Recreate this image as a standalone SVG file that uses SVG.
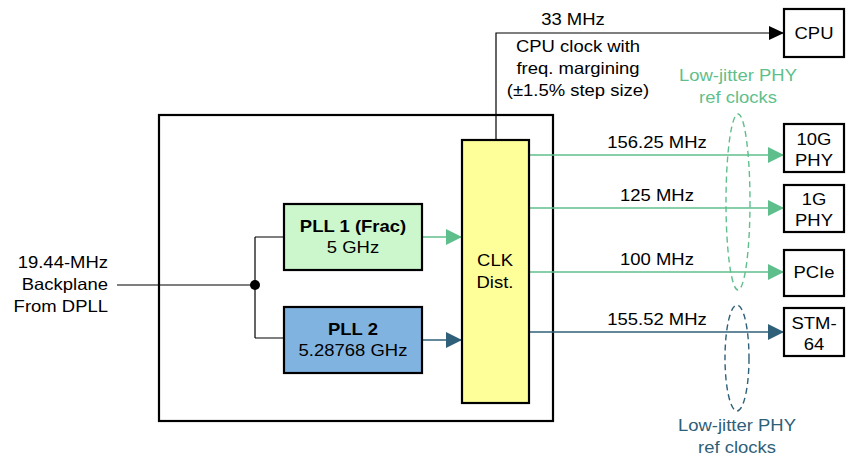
<svg xmlns="http://www.w3.org/2000/svg" width="846" height="457" viewBox="0 0 846 457">
<defs>
<style>
text{font-family:"Liberation Sans",Arial,sans-serif;font-size:16.5px;fill:#000}
.c{text-anchor:middle}
.r{text-anchor:end}
.b{font-weight:bold}
.box{stroke:#000;stroke-width:2.2}
.k{stroke:#000;stroke-width:1.2;fill:none}
.g{stroke:#5fbf8c;stroke-width:1.4;fill:none}
.bl{stroke:#2e6079;stroke-width:1.4;fill:none}
.gt{fill:#5fbf8c}
.bt{fill:#2e6079}
</style>
<marker id="ak" markerWidth="16" markerHeight="14" refX="15" refY="7" orient="auto" markerUnits="userSpaceOnUse"><path d="M0,0 L15,7 L0,14 Z" fill="#000"/></marker>
<marker id="ag" markerWidth="16" markerHeight="16" refX="16" refY="8" orient="auto" markerUnits="userSpaceOnUse"><path d="M0,0 L16,8 L0,16 Z" fill="#5fbf8c"/></marker>
<marker id="ab" markerWidth="16" markerHeight="16" refX="16" refY="8" orient="auto" markerUnits="userSpaceOnUse"><path d="M0,0 L16,8 L0,16 Z" fill="#2e6079"/></marker>
</defs>
<g id="outer"><rect x="159" y="115" width="394" height="306" fill="none" class="box"/></g>
<g id="connectors">
<path class="k" d="M117,285 H255 M255,237 V338 M255,237 H284 M255,338 H284"/>
<circle cx="255" cy="285" r="5" fill="#000"/>
<path class="g" d="M422,237 H462" marker-end="url(#ag)"/>
<path class="bl" d="M422,340 H462" marker-end="url(#ab)"/>
<path class="k" d="M496,140 V33 H784" marker-end="url(#ak)"/>
<path class="g" d="M529,155 H784" marker-end="url(#ag)"/>
<path class="g" d="M529,208 H784" marker-end="url(#ag)"/>
<path class="g" d="M529,272 H784" marker-end="url(#ag)"/>
<path class="bl" d="M529,332 H784" marker-end="url(#ab)"/>
<ellipse cx="738" cy="202" rx="12" ry="88" class="g" stroke-dasharray="6,4"/>
<ellipse cx="737" cy="358" rx="12" ry="53" class="bl" stroke-dasharray="6,4"/>
</g>
<g id="input-label">
<text class="r" transform="translate(108,268) scale(1.12,1)">19.44-MHz</text>
<text class="r" transform="translate(108,290) scale(1.12,1)">Backplane</text>
<text class="r" transform="translate(108,312) scale(1.12,1)">From DPLL</text>
</g>
<g id="pll1"><rect x="284" y="204" width="138" height="66" fill="#ccf7cc" class="box"/>
<text class="c b" transform="translate(353,232) scale(1.12,1)">PLL 1 (Frac)</text><text class="c" transform="translate(353,253) scale(1.12,1)">5 GHz</text></g>
<g id="pll2"><rect x="284" y="307" width="138" height="66" fill="#80b3e0" class="box"/>
<text class="c b" transform="translate(353,335) scale(1.12,1)">PLL 2</text><text class="c" transform="translate(353,356) scale(1.12,1)">5.28768 GHz</text></g>
<g id="clk"><rect x="462" y="140" width="67" height="263" fill="#ffff99" class="box"/>
<text class="c" transform="translate(495,266) scale(1.12,1)">CLK</text><text class="c" transform="translate(495,288) scale(1.12,1)">Dist.</text></g>
<g id="cpu"><rect x="784" y="9" width="60" height="48" fill="#fff" class="box"/><text class="c" transform="translate(814,39) scale(1.12,1)">CPU</text></g>
<g id="phy10g"><rect x="784" y="124" width="60" height="48" fill="#fff" class="box"/><text class="c" transform="translate(814,145) scale(1.12,1)">10G</text><text class="c" transform="translate(814,166) scale(1.12,1)">PHY</text></g>
<g id="phy1g"><rect x="784" y="185" width="60" height="47" fill="#fff" class="box"/><text class="c" transform="translate(814,205) scale(1.12,1)">1G</text><text class="c" transform="translate(814,226) scale(1.12,1)">PHY</text></g>
<g id="pcie"><rect x="784" y="250" width="60" height="46" fill="#fff" class="box"/><text class="c" transform="translate(814,278) scale(1.12,1)">PCIe</text></g>
<g id="stm"><rect x="784" y="308" width="60" height="48" fill="#fff" class="box"/><text class="c" transform="translate(814,329) scale(1.12,1)">STM-</text><text class="c" transform="translate(814,350) scale(1.12,1)">64</text></g>
<g id="labels">
<text class="c" transform="translate(573,25) scale(1.12,1)">33 MHz</text>
<text class="c" transform="translate(578,52) scale(1.12,1)">CPU clock with</text>
<text class="c" transform="translate(578,74) scale(1.12,1)">freq. margining</text>
<text class="c" transform="translate(578,96) scale(1.12,1)">(±1.5% step size)</text>
<text class="c" transform="translate(657,148) scale(1.12,1)">156.25 MHz</text>
<text class="c" transform="translate(657,201) scale(1.12,1)">125 MHz</text>
<text class="c" transform="translate(657,265) scale(1.12,1)">100 MHz</text>
<text class="c" transform="translate(657,325) scale(1.12,1)">155.52 MHz</text>
<text class="c gt" transform="translate(738,81) scale(1.12,1)">Low-jitter PHY</text>
<text class="c gt" transform="translate(738,103) scale(1.12,1)">ref clocks</text>
<text class="c bt" transform="translate(737,431) scale(1.12,1)">Low-jitter PHY</text>
<text class="c bt" transform="translate(737,453) scale(1.12,1)">ref clocks</text>
</g>
</svg>
